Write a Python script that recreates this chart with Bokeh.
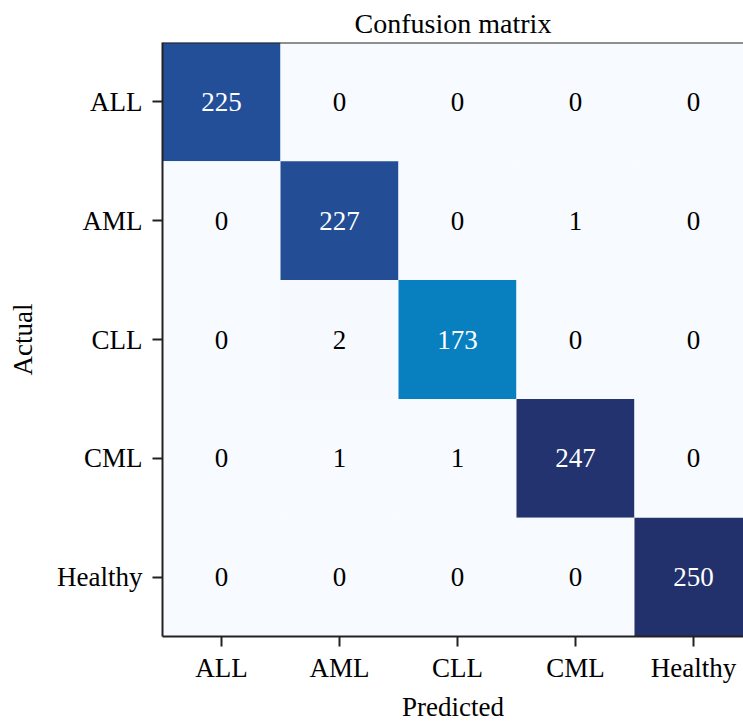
import numpy as np
from bokeh.plotting import figure
from bokeh.models import (ColumnDataSource, LinearColorMapper, FixedTicker,
                          Range1d, Span)
from bokeh.core.properties import value
from bokeh.embed import file_html
from bokeh.resources import INLINE

classes = ["ALL", "AML", "CLL", "CML", "Healthy"]
# rows = actual, columns = predicted
matrix = [
    [225, 0, 0, 0, 0],
    [0, 227, 0, 1, 0],
    [0, 2, 173, 0, 0],
    [0, 1, 1, 247, 0],
    [0, 0, 0, 0, 250],
]

FONT = "Liberation Serif"

# colour map (estimated anchors from the picture)
anchor_pos = [0.0, 0.03, 173 / 250, 225 / 250, 247 / 250, 1.0]
anchor_col = ["#f7fbff", "#f4f9fd", "#0880c0", "#23509a", "#23336f", "#22316c"]


def hex2rgb(h):
    h = h.lstrip("#")
    return [int(h[i:i + 2], 16) for i in (0, 2, 4)]


rgbs = np.array([hex2rgb(c) for c in anchor_col], dtype=float)
ts = np.linspace(0, 1, 256)
palette = []
for t in ts:
    r = np.interp(t, anchor_pos, rgbs[:, 0])
    g = np.interp(t, anchor_pos, rgbs[:, 1])
    b = np.interp(t, anchor_pos, rgbs[:, 2])
    palette.append("#%02x%02x%02x" % (int(round(r)), int(round(g)), int(round(b))))

vmax = max(max(r) for r in matrix)
xs, ys, vals, labels, tcols = [], [], [], [], []
for i, row in enumerate(matrix):
    for j, v in enumerate(row):
        xs.append(j)
        ys.append(i)
        vals.append(v)
        labels.append(str(v))
        tcols.append("white" if v > vmax / 2 else "black")

src = ColumnDataSource(dict(x=xs, y=ys, v=vals, label=labels, tcol=tcols))
mapper = LinearColorMapper(palette=palette, low=0, high=vmax)

p = figure(width=743, height=721, output_backend="svg", toolbar_location=None,
           x_range=Range1d(-0.5, 4.424), y_range=Range1d(4.5, -0.5),
           frame_width=581, frame_height=594,
           min_border_left=162, min_border_right=0, min_border_top=42,
           min_border_bottom=0, title="Confusion matrix")

p.rect(x="x", y="y", width=1, height=1, source=src,
       fill_color={"field": "v", "transform": mapper}, line_color=None)
p.text(x="x", y="y", text="label", source=src, text_color="tcol",
       text_align="center", text_baseline="middle",
       text_font=value(FONT), text_font_size="27px")

p.title.align = "center"
p.title.text_font = FONT
p.title.text_font_size = "28px"
p.title.text_font_style = "normal"
p.title.text_color = "black"
p.title.standoff = 8

p.xgrid.visible = False
p.ygrid.visible = False
p.outline_line_color = None
p.add_layout(Span(location=-0.5, dimension="width", line_color="#222222",
                  line_width=2))

for ax in (p.xaxis[0], p.yaxis[0]):
    ax.ticker = FixedTicker(ticks=list(range(len(classes))))
    ax.major_label_overrides = {i: c for i, c in enumerate(classes)}
    ax.major_label_text_font = FONT
    ax.major_label_text_font_size = "27px"
    ax.major_label_text_color = "black"
    ax.axis_label_text_font = FONT
    ax.axis_label_text_font_size = "27px"
    ax.axis_label_text_font_style = "normal"
    ax.axis_label_text_color = "black"
    ax.minor_tick_line_color = None
    ax.major_tick_in = 0
    ax.major_tick_out = 10
    ax.major_tick_line_width = 2
    ax.major_tick_line_color = "#222222"
    ax.axis_line_width = 2
    ax.axis_line_color = "#222222"

p.xaxis.major_label_standoff = 6
p.yaxis.major_label_standoff = 10
p.xaxis.axis_label = "Predicted"
p.yaxis.axis_label = "Actual"
p.yaxis.major_label_orientation = "horizontal"
p.xaxis.axis_label_standoff = 6
p.yaxis.axis_label_standoff = 16

open("out.html", "w").write(file_html(p, INLINE))
